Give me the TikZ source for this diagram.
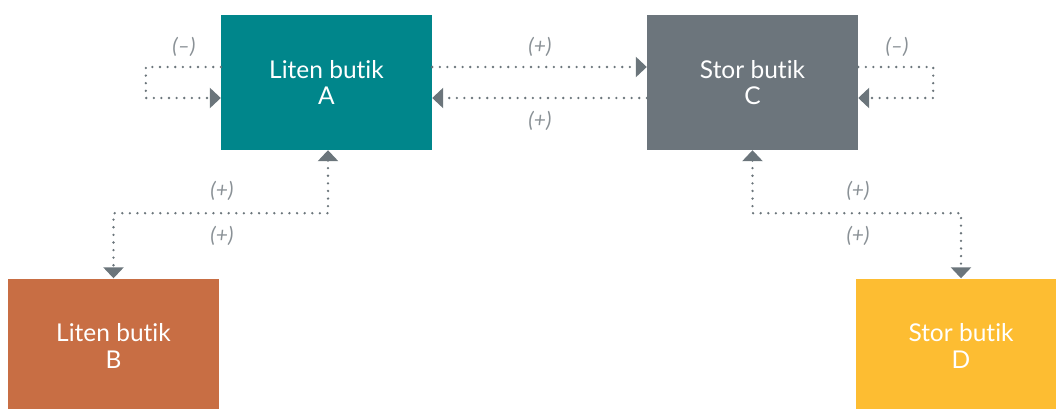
\documentclass[tikz,border=0pt]{standalone}
\usepackage{fontspec}
\setmainfont{Lato}[Ligatures={NoCommon}]
\usetikzlibrary{arrows.meta}
\definecolor{cA}{RGB}{0,134,139}
\definecolor{cC}{RGB}{108,117,124}
\definecolor{cB}{RGB}{200,110,68}
\definecolor{cD}{RGB}{253,189,50}
\definecolor{cLine}{RGB}{107,117,123}
\definecolor{cLab}{RGB}{138,145,150}
\begin{document}
\begin{tikzpicture}[x=1pt,y=-1pt,
  box/.style={minimum width=211pt,minimum height=135pt,inner sep=0pt,text=white,
    font=\fontsize{24.5}{26.5}\selectfont,align=center},
  conn/.style={draw=cLine,line width=2.6pt,line cap=round,dash pattern=on 0pt off 7.6pt},
  tip/.style={-{Triangle[length=11pt,width=20pt]}},
  tips/.style={{Triangle[length=11pt,width=20pt]}-{Triangle[length=11pt,width=20pt]}},
  lab/.style={text=cLab,font=\fontsize{21}{24}\selectfont\itshape,inner sep=0pt}]
\useasboundingbox (0,0) rectangle (1056,409);
\node[box,fill=cA] (A) at (326.5,82.5) {Liten butik\\A};
\node[box,fill=cC] (C) at (752.5,82.5) {Stor butik\\C};
\node[box,fill=cB] (B) at (113.5,346) {Liten butik\\B};
\node[box,fill=cD] (D) at (961,346) {Stor butik\\D};
% self loops
\draw[conn,tip] ([yshift=15.5pt]A.west) -- ++(-75,0) |- ([yshift=-15.5pt]A.west);
\draw[conn,tip] ([yshift=15.5pt]C.east) -- ++(75,0) |- ([yshift=-15.5pt]C.east);
% A <-> C
\draw[conn,tip] ([yshift=15.5pt]A.east) -- ([yshift=15.5pt]C.west);
\draw[conn,tip] ([yshift=-15.5pt]C.west) -- ([yshift=-15.5pt]A.east);
% A <-> B, C <-> D
\draw[conn,tips] ([xshift=1.5pt]A.south) -- ++(0,63) -| (B.north);
\draw[conn,tips] (C.south) -- ++(0,63) -| (D.north);
% labels
\node[lab] (l1) at (184,47) {(–)};
\node[lab] (l2) at (897,47) {(–)};
\node[lab] (l3) at (540,47) {(+)};
\node[lab] (l4) at (540,121) {(+)};
\node[lab] (l5) at (222,191) {(+)};
\node[lab] (l6) at (222,236) {(+)};
\node[lab] (l7) at (858,191) {(+)};
\node[lab] (l8) at (858,236) {(+)};
\end{tikzpicture}
\end{document}
